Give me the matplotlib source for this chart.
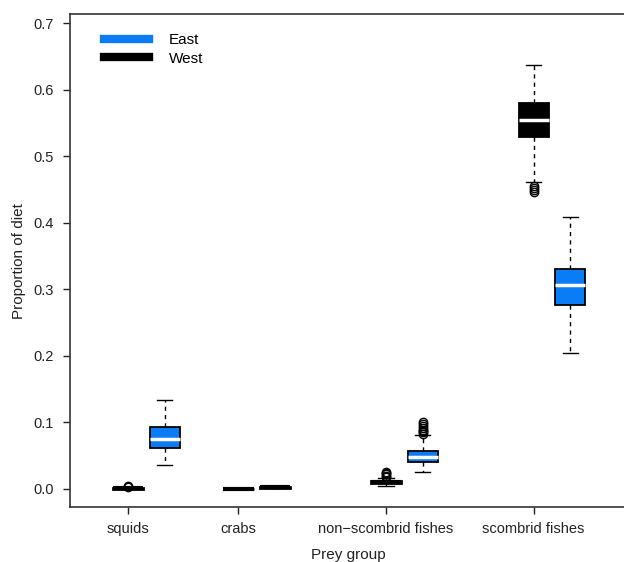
import matplotlib
matplotlib.use('Agg')
import matplotlib.pyplot as plt
from matplotlib.lines import Line2D

plt.rcParams['font.family'] = ['Liberation Sans', 'DejaVu Sans']

# Data
groups = ["squids", "crabs", "non\u2212scombrid fishes", "scombrid fishes"]
group_pos = [0.0, 0.75, 1.75, 2.75]
east_offset = 0.25

west_lo = [0.0, 0.0, 0.005, 0.462]
west_q1 = [0.0005, 0.0, 0.009, 0.5295]
west_med = [0.001, 0.0002, 0.0105, 0.554]
west_q3 = [0.0018, 0.0006, 0.012, 0.5795]
west_hi = [0.003, 0.001, 0.017, 0.637]
west_fliers = [[0.0035, 0.004], [], [0.018, 0.02, 0.022, 0.024, 0.026],
               [0.446, 0.449, 0.452, 0.455]]

east_lo = [0.036, 0.0015, 0.025, 0.204]
east_q1 = [0.061, 0.002, 0.041, 0.277]
east_med = [0.075, 0.0025, 0.048, 0.306]
east_q3 = [0.093, 0.0033, 0.057, 0.331]
east_hi = [0.134, 0.0037, 0.081, 0.409]
east_fliers = [[], [], [0.083, 0.085, 0.087, 0.089, 0.091, 0.094, 0.097, 0.1], []]

EAST_COL = '#0a7cf6'
WEST_COL = '#000000'


def make_stats(lo, q1, med, q3, hi, fliers):
    out = []
    for i in range(len(lo)):
        out.append({'whislo': lo[i], 'q1': q1[i], 'med': med[i], 'q3': q3[i],
                    'whishi': hi[i], 'fliers': fliers[i]})
    return out


fig = plt.figure(figsize=(6.24, 5.62), dpi=100)
ax = fig.add_axes([0.1114, 0.0975, 0.895, 0.877])

box_w = 0.204
common = dict(
    widths=box_w, capwidths=box_w / 2, patch_artist=True, manage_ticks=False,
    whiskerprops=dict(color='black', lw=1, linestyle=(0, (3, 3))),
    capprops=dict(color='black', lw=1),
    medianprops=dict(color='white', lw=2.5, solid_capstyle='butt'),
    flierprops=dict(marker='o', markerfacecolor='none', markeredgecolor='black',
                    markersize=6, markeredgewidth=1),
)

parts = []
parts.append((ax.bxp(make_stats(west_lo, west_q1, west_med, west_q3, west_hi, west_fliers),
                     positions=group_pos,
                     boxprops=dict(facecolor=WEST_COL, edgecolor='black', lw=1.3), **common),
              west_q1, west_q3))
parts.append((ax.bxp(make_stats(east_lo, east_q1, east_med, east_q3, east_hi, east_fliers),
                     positions=[p + east_offset for p in group_pos],
                     boxprops=dict(facecolor=EAST_COL, edgecolor='black', lw=1.3), **common),
              east_q1, east_q3))

# very flat boxes: R draws them as a solid black bar
for art, q1, q3 in parts:
    for i, med in enumerate(art['medians']):
        if q3[i] - q1[i] < 0.004:
            med.set_color('black')
            med.set_linewidth(3)
            art['boxes'][i].set_linewidth(2)

ax.set_xlim(-0.395, 3.39)
ax.set_ylim(-0.0275, 0.7135)
ax.set_xticks(group_pos)
ax.set_xticklabels(groups)
ax.set_yticks([0.0, 0.1, 0.2, 0.3, 0.4, 0.5, 0.6, 0.7])
ax.set_yticklabels([f'{v:.1f}' for v in ax.get_yticks()])
ax.tick_params(direction='out', length=5, width=1, labelsize=10.5, pad=6, colors='#222222')
ax.spines['right'].set_visible(False)
for s in ['left', 'top', 'bottom']:
    ax.spines[s].set_linewidth(1.2)
    ax.spines[s].set_color('#333333')

ax.set_xlabel('Prey group', fontsize=11, labelpad=8, color='#222222')
ax.set_ylabel('Proportion of diet', fontsize=11, labelpad=5.5, color='#222222')

handles = [Line2D([], [], color=EAST_COL, lw=6),
           Line2D([], [], color=WEST_COL, lw=6)]
ax.legend(handles, ['East', 'West'], loc='upper left', bbox_to_anchor=(0.038, 0.99),
          frameon=False, fontsize=11, handlelength=2.9, handletextpad=1.3,
          labelspacing=0.3)

fig.savefig('out.png', dpi=100)
